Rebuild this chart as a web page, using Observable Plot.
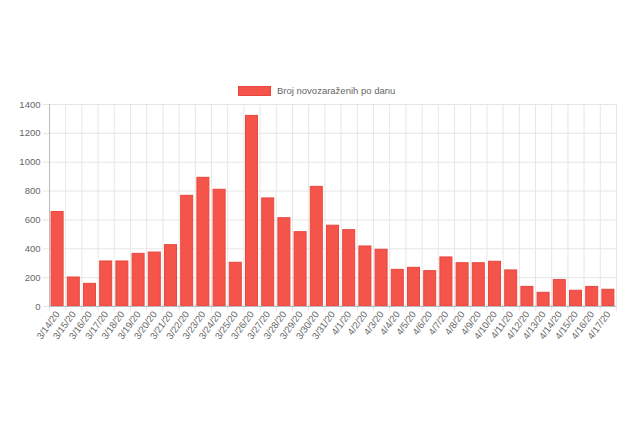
<!DOCTYPE html>
<html><head><meta charset="utf-8">
<script src="https://cdn.jsdelivr.net/npm/d3@7"></script>
<script src="https://cdn.jsdelivr.net/npm/@observablehq/plot@0.6"></script>
<style>
body{margin:0;background:#fff;font-family:"Liberation Sans",Arial,sans-serif}
#wrap{position:relative;width:632px;height:421px}
#legend{position:absolute;left:238px;top:85px;font-size:9.5px;color:#666;display:flex;align-items:center;white-space:nowrap}
#legend .sw{display:inline-block;width:31px;height:8px;background:#f5544b;border:1px solid #e8473e;margin-right:6px}
</style></head>
<body><div id="wrap"><div id="legend"><span class="sw"></span><span id="ltext"></span></div></div>
<script>
const seriesName = "Broj novozaraženih po danu";
const dates = ["3/14/20","3/15/20","3/16/20","3/17/20","3/18/20","3/19/20","3/20/20","3/21/20","3/22/20","3/23/20","3/24/20","3/25/20","3/26/20","3/27/20","3/28/20","3/29/20","3/30/20","3/31/20","4/1/20","4/2/20","4/3/20","4/4/20","4/5/20","4/6/20","4/7/20","4/8/20","4/9/20","4/10/20","4/11/20","4/12/20","4/13/20","4/14/20","4/15/20","4/16/20","4/17/20"];
const values = [655,201,157,312,312,365,374,425,767,892,809,303,1321,749,612,515,829,560,529,416,393,254,268,245,340,300,300,310,250,136,95,183,109,136,116];
const yTicks = [0,200,400,600,800,1000,1200,1400];

document.getElementById("ltext").textContent = seriesName;
const idx = d3.range(values.length);
const grid = "#e6e6e6";
const chart = Plot.plot({
  width: 632, height: 421,
  marginTop: 104, marginBottom: 115, marginLeft: 49, marginRight: 16,
  style: {fontFamily: '"Liberation Sans", Arial, sans-serif', fontSize: "9.5px", color: "#666", background: "#fff"},
  x: {type: "linear", domain: [0, dates.length]},
  y: {domain: [0, 1400]},
  marks: [
    Plot.ruleY(yTicks, {stroke: grid}),
    Plot.ruleX(d3.range(dates.length + 1), {y1: 0, y2: 1400, stroke: grid}),
    Plot.axisY({ticks: yTicks, tickSize: 6, tickPadding: 3, stroke: grid, fill: "#666", label: null, tickFormat: d => String(d)}),
    Plot.axisX({ticks: d3.range(dates.length + 1), tickSize: 5, tickFormat: () => "", stroke: grid, label: null}),
    Plot.axisX({ticks: idx.map(i => i + 0.5), tickSize: 0, tickPadding: 6, tickRotate: -54, tickFormat: v => dates[Math.floor(v)], fill: "#666", label: null}),
    Plot.rectY(values, {x1: (d, i) => i, x2: (d, i) => i + 1, y: d => d, insetLeft: 2.1, insetRight: 2.1, fill: "#f5544b", stroke: "#e8473e", strokeWidth: 1}),
    Plot.ruleY([0], {stroke: "#bbb"}),
    Plot.ruleX([0], {stroke: "#bbb"})
  ]
});
document.getElementById("wrap").appendChild(chart);
</script>
</body></html>
